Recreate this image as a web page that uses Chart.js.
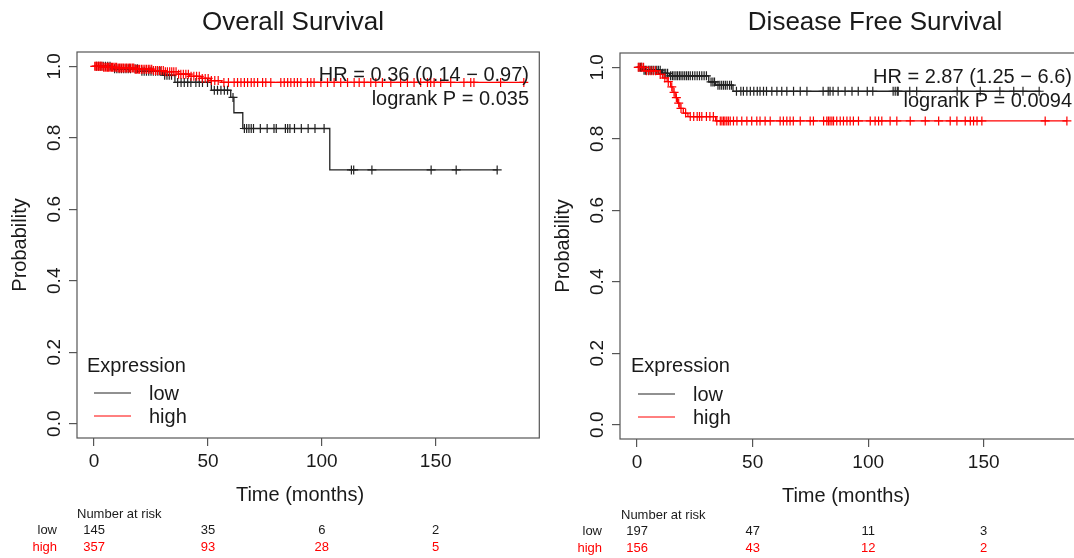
<!DOCTYPE html>
<html>
<head>
<meta charset="utf-8">
<title>Overall / Disease Free Survival</title>
<script src="https://cdn.jsdelivr.net/npm/chart.js@4/dist/chart.umd.min.js"></script>
<style>
  html, body { margin: 0; padding: 0; background: #fff; }
  body { width: 1074px; height: 558px; overflow: hidden; position: relative; }
  canvas { position: absolute; top: 0; }
  #osChart { left: 0; }
  #dfsChart { left: 540px; }
</style>
</head>
<body>
<canvas id="osChart" width="545" height="558"></canvas>
<canvas id="dfsChart" width="560" height="558"></canvas>
<script>
const xTicks = [0, 50, 100, 150];
const yTicks = [0, 0.2, 0.4, 0.6, 0.8, 1];
const groups = ['low', 'high'];

// Overall survival - low expression (step times / survival, censored times)
const osLowTime = [0, 8, 20, 30, 35.5, 51.5, 60, 61.4, 65.3, 103.5, 177];
const osLowSurv = [1, 0.993, 0.986, 0.975, 0.955, 0.933, 0.913, 0.87, 0.826, 0.71, 0.71];
const osLowCensor = [1, 2, 3, 4, 5, 6, 7, 9, 10, 11, 12, 13, 14, 15, 16, 18, 19, 21, 22, 23, 24, 25, 26, 27, 28, 29,
  31, 32, 33, 34, 36.7, 38.2, 39.6, 41.1, 42.5, 44.7, 46.2, 47.6, 49.8, 52.8, 54.2, 55.7, 57.2, 58.6, 61,
  66, 67, 68, 69, 70, 73, 76, 79, 80, 84, 85, 86, 88, 91, 94, 97, 101, 113, 114, 122, 148, 159, 177];

// Overall survival - high expression
const osHighTime = [0, 4, 10, 18, 26, 31, 37, 42, 47, 51, 56, 188.7];
const osHighSurv = [1, 0.997, 0.995, 0.992, 0.988, 0.985, 0.978, 0.972, 0.966, 0.96, 0.955, 0.955];
const osHighCensor = [0.3, 0.8, 1.2, 1.7, 2.1, 2.6, 3, 3.5, 4.2, 4.8, 5.3, 5.9, 6.4, 7, 7.6, 8.1, 8.7, 9.3, 9.9,
  10.6, 11.2, 11.8, 12.3, 12.9, 13.6, 14.2, 14.9, 15.5, 16.1, 16.8, 17.4, 18.1, 18.7, 19.4, 20, 20.8, 21.5, 22.3,
  23, 23.8, 24.5, 25.3, 26.1, 27, 27.8, 28.7, 29.5, 30.4, 31.3, 32.2, 33.2, 34.1, 35, 36, 37.1, 38.1, 39.2, 40.3,
  41.4, 42.6, 43.8, 45, 46.2, 47.5, 48.8, 50.1, 51.5, 53, 54.5, 57, 59, 61.5, 63, 64.5, 66, 67.4, 69, 70.3, 71.8,
  74, 75.4, 77.6, 82, 83.5, 85, 86.4, 87.9, 89.3, 90.8, 93.7, 95.2, 96.6, 99.6, 102.5, 105.4, 108.3, 111.3, 114.2,
  116.4, 118.6, 121.5, 123.7, 126.6, 130.3, 134.6, 137.6, 140.5, 143.4, 146.4, 147.8, 149.3, 152.2, 156.6, 162.4,
  165.4, 166.8, 178.5, 188.7];

// Disease free survival - low expression
const dfsLowTime = [0, 2.5, 10.5, 14, 31, 34, 41.5, 174.5];
const dfsLowSurv = [1, 0.992, 0.983, 0.976, 0.959, 0.95, 0.933, 0.933];
const dfsLowCensor = [0.8, 1.5, 2, 3, 3.6, 4.2, 5, 5.6, 6.3, 7, 7.8, 8.5, 9.2, 10, 11, 11.7, 12.4, 13.2, 14.5, 15.3,
  16, 16.8, 17.5, 18.3, 19, 19.8, 20.6, 21.4, 22.2, 23, 24, 25, 26, 27, 28, 29, 30, 32, 32.8, 33.5, 35, 35.8, 36.6,
  37.4, 38.2, 39, 40, 40.8, 43, 44.9, 46, 47.5, 49, 50.5, 52, 53.2, 54.7, 56, 58.3, 60.5, 62.6, 64.8, 67.7, 70.6,
  73.5, 80.5, 82.7, 83.5, 84.8, 87, 90, 93, 95.7, 99.6, 102, 110.8, 111.7, 112.6, 113, 118, 121, 138.5, 148.5, 157,
  163, 167, 174];

// Disease free survival - high expression
const dfsHighTime = [0, 3, 9, 11, 13, 14.5, 15.5, 16.5, 17.5, 18.5, 20, 22, 34, 186];
const dfsHighSurv = [1, 0.99, 0.98, 0.97, 0.96, 0.945, 0.93, 0.915, 0.9, 0.885, 0.872, 0.862, 0.85, 0.85];
const dfsHighCensor = [0.5, 1.2, 2, 2.8, 4, 5, 6, 7, 8, 10, 12, 13.5, 15, 16, 17, 18, 19, 21, 23, 24.5, 26, 27, 28,
  30, 31.5, 33, 34.5, 36, 36.7, 37.4, 38, 38.8, 39.5, 40.3, 41.7, 43.2, 45.3, 47.5, 49.6, 51.8, 53.2, 55.4, 57.6,
  61.9, 63.3, 64.8, 66.2, 67.6, 70.6, 74.9, 76.3, 80.7, 82.1, 82.8, 83.5, 84.3, 85, 86.4, 87.9, 89.3, 90.8, 92.2,
  93.6, 95.8, 100.9, 103, 104.5, 105.9, 109.5, 112.4, 118.2, 124.7, 130.5, 135.5, 138.4, 142, 144.2, 145.6, 147.1,
  149.2, 176.6, 186];

// number at risk at 0, 50, 100, 150 months
const osRiskLow = [145, 35, 6, 2];
const osRiskHigh = [357, 93, 28, 5];
const dfsRiskLow = [197, 47, 11, 3];
const dfsRiskHigh = [156, 43, 12, 2];

const family = '"Liberation Sans", Arial, Helvetica, sans-serif';
const ink = '#1a1a1a';
const axisColor = '#555';
const lowColor = '#222';
const highColor = '#ff0000';

function survAt(times, surv, t) {
  let s = surv[0];
  for (let i = 0; i < times.length; i++) {
    if (times[i] <= t) s = surv[i];
  }
  return s;
}

// draws the R style extras: box, titles, HR text, legend, number at risk
const rText = {
  id: 'rText',
  afterDraw(chart, args, o) {
    const {ctx, chartArea: a} = chart;
    const x = chart.scales.x;
    ctx.save();
    ctx.strokeStyle = axisColor;
    ctx.lineWidth = 1.2;
    ctx.strokeRect(a.left, a.top, a.right - a.left, a.bottom - a.top);

    ctx.fillStyle = ink;
    ctx.textBaseline = 'alphabetic';
    ctx.textAlign = 'center';
    ctx.font = '26px ' + family;
    ctx.fillText(o.title, o.titleX, 30);
    ctx.font = '20px ' + family;
    ctx.fillText('Time (months)', o.xLabelX, 501 + o.dy);

    ctx.textAlign = 'right';
    ctx.fillText(o.hr, o.hrX, o.hrY);
    ctx.fillText(o.logrank, o.hrX, o.hrY + 24);

    // legend
    ctx.textAlign = 'left';
    ctx.fillText('Expression', o.legX, 372);
    ctx.fillText(groups[0], o.legX + 62, 400 + o.dy);
    ctx.fillText(groups[1], o.legX + 62, 423 + o.dy);
    ctx.lineWidth = 1;
    ctx.strokeStyle = lowColor;
    ctx.beginPath(); ctx.moveTo(o.legX + 7, 393 + o.dy); ctx.lineTo(o.legX + 44, 393 + o.dy); ctx.stroke();
    ctx.strokeStyle = highColor;
    ctx.beginPath(); ctx.moveTo(o.legX + 7, 416 + o.dy); ctx.lineTo(o.legX + 44, 416 + o.dy); ctx.stroke();

    // number at risk
    ctx.font = '13px ' + family;
    ctx.fillStyle = ink;
    ctx.fillText('Number at risk', o.riskX, 518 + o.dy);
    ctx.textAlign = 'right';
    ctx.fillText(groups[0], o.riskLabelX, 534 + o.dy);
    ctx.fillStyle = highColor;
    ctx.fillText(groups[1], o.riskLabelX, 551 + o.dy);
    ctx.textAlign = 'center';
    xTicks.forEach((t, i) => {
      const px = x.getPixelForValue(t);
      ctx.fillStyle = ink;
      ctx.fillText(String(o.riskLow[i]), px, 534 + o.dy);
      ctx.fillStyle = highColor;
      ctx.fillText(String(o.riskHigh[i]), px, 551 + o.dy);
    });
    ctx.restore();
  }
};

function kmDatasets(series) {
  const ds = [];
  series.forEach(s => {
    ds.push({
      label: s.name,
      data: s.time.map((t, k) => ({x: t, y: s.surv[k]})),
      borderColor: s.color,
      borderWidth: 1.3,
      pointRadius: 0,
      stepped: true,
      fill: false,
      order: s.order
    });
    ds.push({
      label: s.name + ' censored',
      data: s.censor.map(t => ({x: t, y: survAt(s.time, s.surv, t)})),
      showLine: false,
      pointStyle: 'cross',
      pointRadius: 4.5,
      borderColor: s.color,
      borderWidth: 1.2,
      order: s.order
    });
  });
  return ds;
}

function makeChart(id, p) {
  return new Chart(document.getElementById(id), {
    type: 'line',
    data: {datasets: kmDatasets(p.series)},
    plugins: [rText],
    options: {
      responsive: false,
      animation: false,
      events: [],
      layout: {padding: {top: p.top, right: p.right, bottom: 558 - p.top - 386 - 68, left: 0}},
      plugins: {
        legend: {display: false},
        tooltip: {enabled: false},
        rText: p.text
      },
      scales: {
        x: {
          type: 'linear',
          min: p.xMin,
          max: p.xMax,
          afterBuildTicks: s => { s.ticks = xTicks.map(v => ({value: v})); },
          afterFit: s => { s.height = 68; },
          grid: {drawOnChartArea: false, drawTicks: true, tickLength: 8, color: axisColor, lineWidth: 1.2},
          border: {display: false},
          ticks: {color: ink, font: {family: family, size: 19}, padding: 4, maxRotation: 0, autoSkip: false},
          title: {display: false}
        },
        y: {
          type: 'linear',
          min: -0.04,
          max: 1.04,
          afterBuildTicks: s => { s.ticks = yTicks.map(v => ({value: v})); },
          afterFit: s => { s.width = p.left; },
          grid: {drawOnChartArea: false, drawTicks: true, tickLength: 8, color: axisColor, lineWidth: 1.2},
          border: {display: false},
          ticks: {
            color: ink, font: {family: family, size: 19}, padding: 1,
            minRotation: 90, maxRotation: 90, crossAlign: 'center', autoSkip: false,
            callback: v => v.toFixed(1)
          },
          title: {display: true, text: 'Probability', color: ink, font: {family: family, size: 20},
            padding: {top: p.yTitlePad, bottom: 0}}
        }
      }
    }
  });
}

makeChart('osChart', {
  top: 52, right: 5, left: 77, xMin: -7.5, xMax: 195.5, yTitlePad: 8,
  series: [
    {name: 'high', time: osHighTime, surv: osHighSurv, censor: osHighCensor, color: highColor, order: 0},
    {name: 'low', time: osLowTime, surv: osLowSurv, censor: osLowCensor, color: lowColor, order: 1}
  ],
  text: {
    title: 'Overall Survival', titleX: 293, xLabelX: 300, dy: 0,
    hr: 'HR = 0.36 (0.14 \u2212 0.97)', logrank: 'logrank P = 0.035', hrX: 529, hrY: 81,
    legX: 87, riskX: 77, riskLabelX: 57, riskLow: osRiskLow, riskHigh: osRiskHigh
  }
});

makeChart('dfsChart', {
  top: 53, right: 16, left: 80, xMin: -7.4, xMax: 193.4, yTitlePad: 11,
  series: [
    {name: 'high', time: dfsHighTime, surv: dfsHighSurv, censor: dfsHighCensor, color: highColor, order: 0},
    {name: 'low', time: dfsLowTime, surv: dfsLowSurv, censor: dfsLowCensor, color: lowColor, order: 1}
  ],
  text: {
    title: 'Disease Free Survival', titleX: 335, xLabelX: 306, dy: 1,
    hr: 'HR = 2.87 (1.25 \u2212 6.6)', logrank: 'logrank P = 0.0094', hrX: 532, hrY: 83,
    legX: 91, riskX: 81, riskLabelX: 62, riskLow: dfsRiskLow, riskHigh: dfsRiskHigh
  }
});
</script>
</body>
</html>
